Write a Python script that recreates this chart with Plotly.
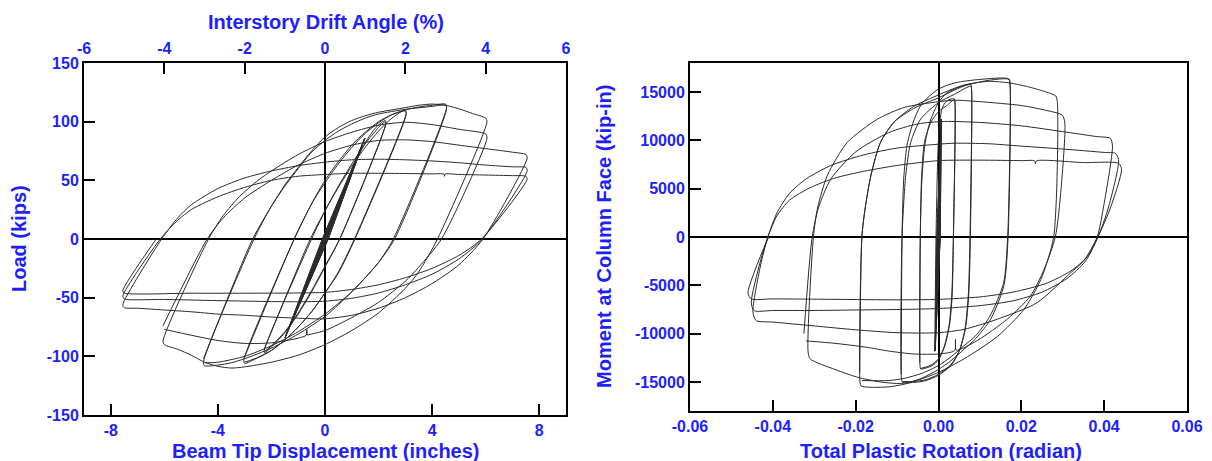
import plotly.graph_objects as go

# ---------------- Left chart: beam tip displacement (in) vs load (kips) ----------------
disp_elastic = [0, 0.56, 0.03, -0.56, -0.03, 0.56, 0.03, -0.56, -0.03, 0.75, 0.04, -0.75, -0.04, 0.75, 0.04, -0.75, -0.04,
                1.12, 0.06, -1.12, -0.06, 1.12, 0.06, -1.12, -0.06, 1.49, 0.1, -1.49, -0.1, 1.49, 0.12, -1.49, -0.1, 1.49, 0.12, -1.49]
load_elastic = [0, 32, 0, -32, 0, 32, 0, -32, 0, 43, 0, -43, 0, 43, 0, -43, 0,
                64, 0, -63, 0, 64, 0, -63, 0, 86, 0, -84, 0, 86, 0, -84, 0, 86, 0, -84]

disp_15 = [-1.49, 0.0, 0.5, 1.0, 1.5, 1.9, 2.25, 2.28, 0.55, 0, -0.5, -1.0, -1.5, -2.0, -2.25,
           -2.27, -0.5, 0, 0.5, 1.0, 1.5, 2.0, 2.25, 2.27, 0.55, 0, -0.5, -1, -1.5, -2, -2.25]
load_15 = [-84, 0, 30, 58, 82, 95, 101, 99, 0, -24, -45, -64, -80, -92, -97,
           -95, 0, 24, 45, 64, 81, 95, 100, 98, 0, -23, -44, -63, -79, -91, -96]

disp_2 = [-2.27, -0.55, 0, 0.5, 1, 1.5, 2, 2.5, 3.0, 3.03, 1.1, 0.5, 0, -0.5, -1, -1.5, -2, -2.5, -3,
          -3.03, -1.15, -0.5, 0, 0.5, 1, 1.5, 2, 2.5, 3, 3.03, 1.12, 0.5, 0, -0.5, -1, -1.5, -2, -2.5, -3]
load_2 = [-94, 0, 24, 44, 62, 78, 92, 103, 110, 107, 0, -28, -46, -62, -75, -86, -95, -101, -106,
          -103, 0, 30, 48, 64, 78, 90, 99, 106, 109, 106, 0, -29, -46, -62, -75, -86, -95, -101, -105]

disp_3 = [-3.03, -1.15, -0.5, 0, 0.5, 1, 1.5, 2, 2.5, 3, 3.5, 4, 4.5,
          4.54, 2.55, 2, 1.5, 1, 0.5, 0, -1, -2, -3, -3.5, -4, -4.5,
          -4.54, -2.65, -2, -1.5, -1, -0.5, 0, 0.5, 1, 1.5, 2, 3, 4, 4.5,
          4.54, 2.6, 2, 1.5, 1, 0, -1, -2, -3, -4, -4.5]
load_3 = [-102, 0, 30, 50, 66, 80, 91, 100, 106, 110, 112.5, 114, 115,
          112, 0, -20, -33, -45, -56, -66, -81, -93, -102, -105.5, -107.5, -108,
          -105, 0, 28, 45, 60, 74, 84, 92, 98, 103, 106.5, 110.5, 113, 114,
          111, 0, -20, -33, -45, -64, -79, -91, -100, -105, -105.5]

disp_4 = [-4.54, -2.7, -2, -1.5, -1, -0.5, 0, 0.5, 1, 1.5, 2, 3, 3.5, 4, 4.5, 5, 5.5, 6,
          6.05, 4.2, 3.5, 3, 2, 1, 0, -1, -2, -3, -3.5, -4, -4.5, -5, -5.5, -6,
          -6.05, -4.35, -3.8, -3.2, -2.5, -2, -1, 0, 1, 2, 3, 4, 5, 6,
          6.05, 4.35, 3.5, 3, 2, 1, 0, -0.6, -0.66, -0.68, -0.7, -1, -2, -3, -4, -5, -6]
load_4 = [-102, 0, 28, 46, 61, 75, 87, 95, 101, 105, 108, 112, 114, 115, 114, 111, 107, 103,
          100, 0, -28, -42, -63, -78, -90, -99, -105, -109, -110, -108.5, -105, -99, -94, -90,
          -87, 0, 20, 36, 50, 58, 72, 83, 91, 97, 99.5, 97.5, 93.5, 89.5,
          86, 0, -24, -36, -54, -67, -78, -81.5, -81.8, -77, -82, -84.5, -88.5, -89, -86.5, -82, -77]

disp_5 = [-6.05, -4.4, -3.8, -3, -2, -1, 0, 1, 2, 3, 4, 5, 6, 7, 7.5,
          7.55, 5.9, 5, 4, 3, 2, 1, 0, -1, -2, -3, -4, -5, -6, -7, -7.5,
          -7.55, -6.1, -5.5, -5, -4, -3, -2, -1, 0, 1, 2, 3, 4, 5, 6, 7, 7.5,
          7.55, 5.88, 5, 4, 3, 2, 1, 0, -1, -2, -4, -6, -7.5,
          -7.55, -6.15, -5.5, -5, -4, -3, -2, -1, 0, 1, 2, 3, 4, 4.44, 4.46, 4.48, 5, 6, 7, 7.5,
          7.55, 5.85, 5, 4, 3, 2, 1, 0, -1, -3, -5, -7.5, -7.55, -6.3]
load_5 = [-74, 0, 18, 35, 50, 63, 73, 80, 84, 84.5, 83, 80, 77, 74, 72,
          69, 0, -22, -38, -50, -59, -65, -68, -67.5, -66.5, -65, -64, -62, -60.5, -59, -58.5,
          -56, 0, 18, 29, 43, 52, 58, 62.5, 65.5, 67.5, 68, 67.5, 66.5, 65, 63, 61.5, 61,
          58, 0, -17, -30, -39, -46, -50.5, -53, -53.5, -53.3, -52.5, -51.5, -51,
          -48.5, 0, 16, 25, 36, 44, 50, 53.5, 55, 56, 56, 55.8, 55.5, 55.3, 53.4, 55.3, 55, 54.5, 54, 53.5,
          51, 0, -14, -25, -33, -39, -43, -45.5, -46, -46.2, -46.2, -46, -44, 0]

# ---------------- Right chart: total plastic rotation (rad) vs moment (kip-in) ----------------
rot_elastic = [0, 0.0003, 0.0001, -0.0003, -0.0001, 0.0003, 0.0001, -0.0003, -0.0001, 0.0004, 0.0001, -0.0004, -0.0001,
               0.0004, 0.0001, -0.0004, -0.0001, 0.0005, 0.0002, -0.0006, -0.0002, 0.0005, 0.0002, -0.0006, -0.0002,
               0.0006, 0.0004, -0.0008, -0.0004, 0.0007, 0.0004, -0.0008, -0.0004, 0.0007, 0.0004, -0.0009]
mom_elastic = [0, 4500, 0, -4500, 0, 4500, 0, -4500, 0, 6100, 0, -6100, 0,
               6100, 0, -6100, 0, 9000, 0, -8900, 0, 9000, 0, -8900, 0,
               12200, 0, -11800, 0, 12200, 0, -11800, 0, 12200, 0, -11800]

rot_15 = [-0.0009, -0.0006, -0.0002, 0.0002, 0.0008, 0.0016, 0.0028, 0.0038,
          0.004, 0.0036, 0.0033, 0.0027, 0.0015, 0, -0.0015, -0.003, -0.0043,
          -0.0045, -0.0044, -0.0041, -0.0034, -0.0018, 0, 0.002, 0.0038,
          0.004, 0.0036, 0.0032, 0.0026, 0.0014, 0, -0.002, -0.0043]
mom_15 = [-11800, 0, 8000, 11500, 13200, 13900, 14250, 14300,
          13700, 0, -6000, -9000, -11300, -12700, -13300, -13550, -13650,
          -13000, 0, 6000, 9800, 11900, 12950, 13600, 14200,
          13600, 0, -6000, -9000, -11300, -12600, -13300, -13600]

rot_2 = [-0.0045, -0.0044, -0.004, -0.0033, -0.002, 0, 0.002, 0.005, 0.0078,
         0.008, 0.0076, 0.0072, 0.0064, 0.005, 0.003, 0, -0.003, -0.006, -0.0087,
         -0.009, -0.0088, -0.0079, -0.0067, -0.0043, 0, 0.0038, 0.0078,
         0.008, 0.0077, 0.0073, 0.0065, 0.005, 0.003, 0, -0.003, -0.006, -0.0087]
mom_2 = [-13000, 0, 6000, 9500, 12000, 13900, 14900, 15500, 15800,
         15200, 0, -6000, -9500, -11800, -13300, -14300, -14850, -15050, -15030,
         -14300, 0, 6400, 9800, 12200, 13900, 14750, 15600,
         15000, 0, -6000, -9500, -11800, -13200, -14200, -14750, -14950, -14950]

rot_3 = [-0.009, -0.0088, -0.0084, -0.0076, -0.006, -0.004, 0, 0.004, 0.01, 0.017,
         0.0173, 0.0168, 0.0158, 0.0126, 0.009, 0.0062, 0.003, 0, -0.004, -0.008, -0.012, -0.016, -0.0187,
         -0.019, -0.0185, -0.0177, -0.0163, -0.014, -0.0107, -0.006, 0, 0.006, 0.012, 0.017,
         0.0173, 0.0167, 0.0157, 0.0124, 0.009, 0.006, 0.003, 0, -0.004, -0.008, -0.012, -0.0185]
mom_3 = [-14200, 0, 6000, 9500, 12000, 13800, 15300, 15950, 16300, 16350,
         15600, 0, -5000, -8500, -10500, -11600, -12800, -13700, -14600, -15200, -15500, -15550, -15400,
         -14700, 0, 3000, 6400, 9800, 11900, 13300, 14400, 15600, 16200, 16300,
         15500, 0, -4800, -8200, -10200, -11300, -12400, -13300, -14100, -14600, -14850, -14850]

rot_4 = [-0.019, -0.0185, -0.0177, -0.0163, -0.014, -0.0105, -0.006, 0, 0.006, 0.012, 0.017, 0.022, 0.026, 0.0283,
         0.0287, 0.0278, 0.0247, 0.0206, 0.0142, 0.0062, 0, -0.005, -0.009, -0.014, -0.0196, -0.025, -0.031,
         -0.0315, -0.0302, -0.0292, -0.0268, -0.022, -0.0147, -0.0083, 0, 0.004, 0.01, 0.02, 0.026, 0.0299,
         0.0305, 0.0296, 0.0282, 0.0255, 0.0222, 0.0166, 0.0094, 0.0043, 0.0041, 0.0039, 0, -0.006, -0.012, -0.0175, -0.025, -0.032]
mom_4 = [-14100, 0, 3000, 6400, 9800, 12000, 13500, 14700, 15700, 16100, 15950, 15500, 15000, 14600,
         13900, 0, -4400, -7500, -10300, -12600, -14000, -14800, -15150, -15000, -14500, -13700, -12600,
         -11800, 0, 3000, 6400, 9800, 12200, 13400, 14000, 14150, 14000, 13600, 13100, 12600,
         11800, 5000, 0, -3340, -6100, -8500, -10700, -11700, -10600, -11750, -12100, -12100, -11800, -11400, -11000, -10750]

rot_5 = [-0.0325, -0.0305, -0.029, -0.026, -0.02, -0.012, -0.005, 0.0014, 0.01, 0.02, 0.03, 0.038, 0.0415,
         0.042, 0.0398, 0.0383, 0.035, 0.0319, 0.0238, 0.0142, 0.0062, 0, -0.01, -0.02, -0.03, -0.04, -0.044,
         -0.0448, -0.043, -0.0412, -0.039, -0.036, -0.032, -0.026, -0.018, -0.01, 0, 0.0038, 0.012, 0.02, 0.03, 0.04, 0.0427,
         0.0435, 0.041, 0.0385, 0.0355, 0.031, 0.025, 0.018, 0.01, 0, -0.01, -0.02, -0.03, -0.04, -0.0445,
         -0.0452, -0.043, -0.0412, -0.039, -0.036, -0.031, -0.025, -0.018, -0.01, 0, 0.01, 0.02, 0.0232, 0.0234, 0.0236, 0.035, 0.0435,
         0.0442, 0.0415, 0.0385, 0.036, 0.032, 0.026, 0.018, 0.01, 0, -0.01, -0.025, -0.04, -0.0452, -0.046, -0.043, -0.041]
mom_5 = [-10000, 0, 3000, 6000, 8800, 10800, 11700, 11950, 11850, 11500, 10900, 10400, 10200,
         9400, 3000, 0, -2500, -3700, -6800, -8500, -9550, -9900, -9900, -9600, -9200, -8800, -8650,
         -7800, -3000, 0, 2500, 4500, 6000, 7400, 8500, 9200, 9600, 9700, 9650, 9400, 9100, 8750, 8650,
         8000, 3000, 0, -2500, -4300, -5700, -6600, -7100, -7400, -7500, -7550, -7600, -7600, -7620,
         -6800, -2500, 0, 2200, 3800, 5100, 6100, 6800, 7400, 7900, 7950, 7900, 7880, 7550, 7870, 7700, 7620,
         7000, 3000, 0, -2000, -3500, -4800, -5700, -6200, -6450, -6500, -6450, -6400, -6410, -5800, -2000, 0]

# ---------------- Tick labels ----------------
disp_ticks = [-8, -4, 0, 4, 8]
disp_ticktext = ["-8", "-4", "0", "4", "8"]
drift_ticks = [-6, -4, -2, 0, 2, 4, 6]
drift_ticktext = ["-6", "-4", "-2", "0", "2", "4", "6"]
load_ticks = [-150, -100, -50, 0, 50, 100, 150]
load_ticktext = ["-150", "-100", "-50", "0", "50", "100", "150"]
rot_ticks = [-0.06, -0.04, -0.02, 0, 0.02, 0.04, 0.06]
rot_ticktext = ["-0.06", "-0.04", "-0.02", "0.00", "0.02", "0.04", "0.06"]
mom_ticks = [-15000, -10000, -5000, 0, 5000, 10000, 15000]
mom_ticktext = ["-15000", "-10000", "-5000", "0", "5000", "10000", "15000"]

BLUE = "#1e1eff"
FONT = "Liberation Sans, Arial, sans-serif"
LINE_COLOR = "#2a2a2a"

fig = go.Figure()

left_groups = [(disp_elastic, load_elastic, "linear"), (disp_15, load_15, "spline"), (disp_2, load_2, "spline"),
               (disp_3, load_3, "spline"), (disp_4, load_4, "spline"), (disp_5, load_5, "spline")]
right_groups = [(rot_elastic, mom_elastic, "linear"), (rot_15, mom_15, "spline"), (rot_2, mom_2, "spline"),
                (rot_3, mom_3, "spline"), (rot_4, mom_4, "spline"), (rot_5, mom_5, "spline")]

for xs, ys, shape in left_groups:
    assert len(xs) == len(ys)
    fig.add_trace(go.Scatter(x=xs, y=ys, mode="lines", xaxis="x", yaxis="y", hoverinfo="skip",
                             line=dict(color=LINE_COLOR, width=1, shape=shape, smoothing=0.7), showlegend=False))
for xs, ys, shape in right_groups:
    assert len(xs) == len(ys)
    fig.add_trace(go.Scatter(x=xs, y=ys, mode="lines", xaxis="x2", yaxis="y2", hoverinfo="skip",
                             line=dict(color=LINE_COLOR, width=1, shape=shape, smoothing=0.7), showlegend=False))
# empty trace that activates the top (drift angle) axis of the left chart
fig.add_trace(go.Scatter(x=[], y=[], xaxis="x3", yaxis="y", showlegend=False, hoverinfo="skip"))

tickfont = dict(family=FONT, size=16, color=BLUE, weight="bold")
common = dict(showline=True, linecolor="black", linewidth=2, mirror=True, ticks="inside", ticklen=11,
              tickwidth=2, tickcolor="black", showgrid=False, zeroline=True, zerolinecolor="black",
              zerolinewidth=2, tickfont=tickfont, tickmode="array", fixedrange=True, automargin=False)

W, H = 1212, 461
L_dom_x = [84 / W, 566 / W]
L_dom_y = [1 - 415 / H, 1 - 63 / H]
R_dom_x = [690 / W, 1187 / W]
R_dom_y = [1 - 411 / H, 1 - 63 / H]

fig.update_layout(
    width=W, height=H, autosize=False, margin=dict(l=0, r=0, t=0, b=0, pad=0),
    paper_bgcolor="white", plot_bgcolor="white", showlegend=False, hovermode=False,
    xaxis=dict(domain=L_dom_x, anchor="y", range=[-9, 9], tickvals=disp_ticks, ticktext=disp_ticktext, **common),
    yaxis=dict(domain=L_dom_y, anchor="x", range=[-150, 150], tickvals=load_ticks, ticktext=load_ticktext, **common),
    xaxis3=dict(overlaying="x", anchor="y", side="top", range=[-6, 6], tickvals=drift_ticks, ticktext=drift_ticktext,
                showline=False, ticks="inside", ticklen=11, tickwidth=2, tickcolor="black", showgrid=False,
                zeroline=False, tickfont=tickfont, tickmode="array", fixedrange=True, automargin=False,
                ticklabelstandoff=5),
    xaxis2=dict(domain=R_dom_x, anchor="y2", range=[-0.06, 0.06], tickvals=rot_ticks, ticktext=rot_ticktext, **common),
    yaxis2=dict(domain=R_dom_y, anchor="x2", range=[-18000, 18000], tickvals=mom_ticks, ticktext=mom_ticktext, **common),
)

title_font = dict(family=FONT, size=20, color=BLUE, weight="bold")
annots = [
    ("Interstory Drift Angle (%)", 326, 22, 0),
    ("Beam Tip Displacement (inches)", 326, 451, 0),
    ("Load (kips)", 19, 239, -90),
    ("Moment at Column Face (kip-in)", 604, 237, -90),
    ("Total Plastic Rotation (radian)", 941, 451, 0),
]
for text, px, py, ang in annots:
    fig.add_annotation(text=text, x=px / W, y=1 - py / H, xref="paper", yref="paper", showarrow=False,
                       xanchor="center", yanchor="middle", textangle=ang, font=title_font)

fig.write_html("out.html", config={"displayModeBar": False, "staticPlot": True, "responsive": False},
               post_script="document.body.style.margin='0';document.body.style.overflow='hidden';")
